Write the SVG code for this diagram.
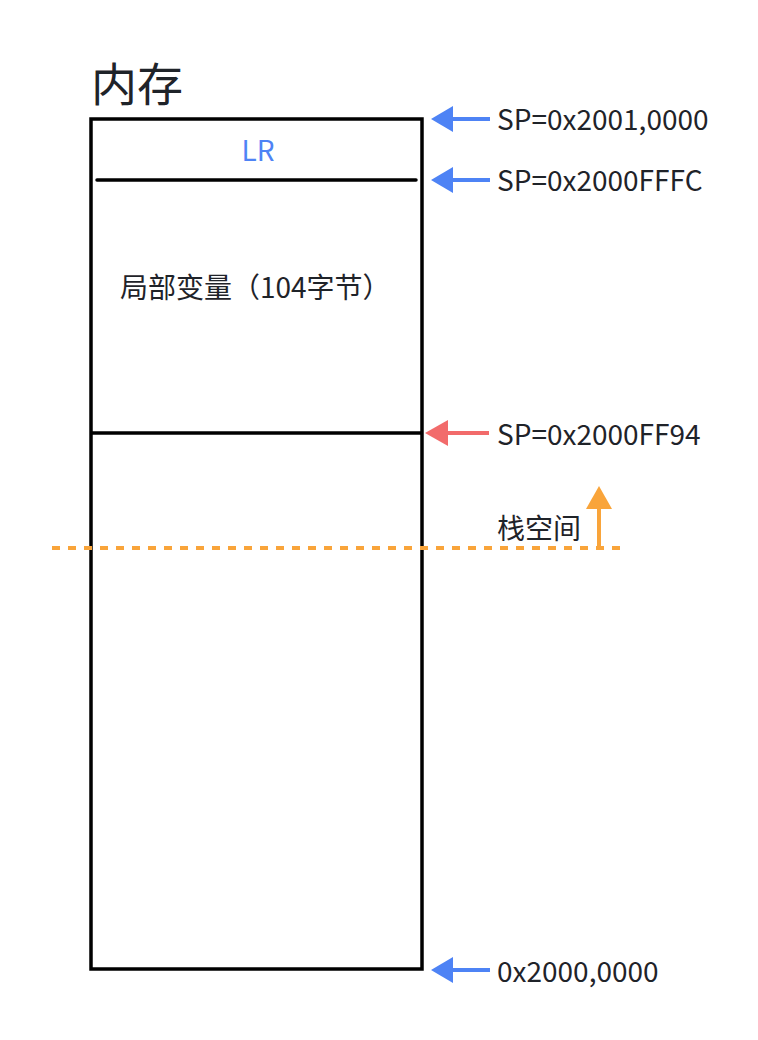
<svg xmlns="http://www.w3.org/2000/svg" width="758" height="1040" viewBox="0 0 758 1040">
<style>
.t{font-family:"Noto Sans CJK SC","Noto Sans",sans-serif;fill:#1f2329;font-size:28px}
.k{stroke:#000;stroke-width:3.5;fill:none}
.b{stroke:#4e83f5;stroke-width:4;fill:none}
.bh{fill:#4e83f5}
.r{stroke:#f26b6b;stroke-width:4;fill:none}
.rh{fill:#f26b6b}
.o{stroke:#f9a43a;stroke-width:4;fill:none}
.oh{fill:#f9a43a}
</style>
<rect width="758" height="1040" fill="#fff"/>
<g id="title"><text class="t" x="91" y="101" style="font-size:46px">内存</text></g>
<g id="memory">
<rect class="k" x="91" y="119" width="331" height="850"/>
<text x="258" y="161" text-anchor="middle" style="font-family:'Noto Sans CJK SC','Noto Sans',sans-serif;font-size:28px;fill:#4e83f5">LR</text>
<line class="k" x1="97" y1="180" x2="416" y2="180" stroke-linecap="round"/>
<text class="t" x="120" y="298">局部变量（104字节）</text>
<line class="k" x1="91" y1="433" x2="422" y2="433"/>
</g>
<g id="connectors">
<line class="b" x1="448" y1="119" x2="490" y2="119"/>
<polygon class="bh" points="431,119 453,106 453,132"/>
<line class="b" x1="448" y1="180" x2="490" y2="180"/>
<polygon class="bh" points="431,180 453,167 453,193"/>
<line class="r" x1="442" y1="433" x2="489" y2="433"/>
<polygon class="rh" points="425,433 448,420 448,446"/>
<line class="b" x1="448" y1="970" x2="490" y2="970"/>
<polygon class="bh" points="431,970 453,957 453,983"/>
<line class="o" x1="52" y1="548" x2="620" y2="548" stroke-dasharray="8 8"/>
<line class="o" x1="599" y1="548" x2="599" y2="503"/>
<polygon class="oh" points="599,486 612,509 586,509"/>
</g>
<g id="labels">
<text class="t" x="497" y="130">SP=0x2001,0000</text>
<text class="t" x="497" y="191">SP=0x2000FFFC</text>
<text class="t" x="497" y="445">SP=0x2000FF94</text>
<text class="t" x="497" y="539">栈空间</text>
<text class="t" x="497" y="982">0x2000,0000</text>
</g>
</svg>
